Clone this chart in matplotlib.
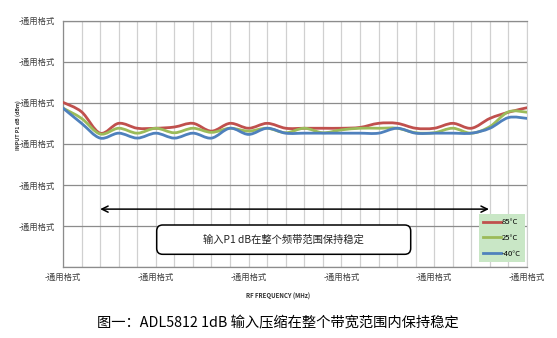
import matplotlib
matplotlib.use("Agg")
import matplotlib.pyplot as plt
import numpy as np
from matplotlib.lines import Line2D
from matplotlib.patches import FancyBboxPatch, PathPatch
from matplotlib.path import Path
from matplotlib.transforms import IdentityTransform

plt.rcParams["font.family"] = ["Noto Sans CJK SC", "DejaVu Sans"]

# frequency steps (one per minor gridline) and P1dB readings, arbitrary units
freq_steps = list(range(26))
p1db_85c = [4.01, 3.78, 3.26, 3.50, 3.38, 3.38, 3.41, 3.50, 3.31, 3.50, 3.38, 3.50, 3.38,
            3.38, 3.38, 3.38, 3.40, 3.50, 3.50, 3.38, 3.38, 3.50, 3.38, 3.62, 3.77, 3.88]
p1db_25c = [3.87, 3.62, 3.24, 3.38, 3.26, 3.38, 3.27, 3.38, 3.28, 3.38, 3.31, 3.38, 3.27,
            3.38, 3.27, 3.34, 3.38, 3.38, 3.38, 3.27, 3.27, 3.38, 3.26, 3.42, 3.78, 3.77]
p1db_m40c = [3.87, 3.50, 3.14, 3.26, 3.14, 3.26, 3.14, 3.26, 3.14, 3.38, 3.23, 3.38, 3.26,
             3.26, 3.26, 3.26, 3.26, 3.26, 3.38, 3.26, 3.26, 3.26, 3.26, 3.38, 3.64, 3.62]

series_labels = ["85°C", "25°C", "-40°C"]
series_colors = ["#C0504D", "#9BBB59", "#4F81BD"]
tick_label = "-通用格式"
y_ticks = [0, 1, 2, 3, 4, 5, 6]
x_ticks = [0, 5, 10, 15, 20, 25]


def smooth_path(xs, ys):
    # Excel-style smoothed line: Catmull-Rom segments drawn as cubic Beziers
    pts = np.column_stack([xs, ys]).astype(float)
    verts = [pts[0]]
    codes = [Path.MOVETO]
    n = len(pts)
    for i in range(n - 1):
        p0 = pts[max(i - 1, 0)]
        p1 = pts[i]
        p2 = pts[i + 1]
        p3 = pts[min(i + 2, n - 1)]
        verts += [p1 + (p2 - p0) / 6.0, p2 - (p3 - p1) / 6.0, p2]
        codes += [Path.CURVE4] * 3
    return Path(verts, codes)


fig = plt.figure(figsize=(5.57, 3.38), dpi=100)
ax = fig.add_axes([63 / 557, 71 / 338, 464 / 557, 246.3 / 338])

ax.set_xlim(0, 25)
ax.set_ylim(0, 6)

ax.set_xticks(range(26), minor=True)
ax.set_xticks(x_ticks)
ax.set_yticks(y_ticks)
ax.set_xticklabels([tick_label] * len(x_ticks))
# the bottom gridline carries no label in the original
ax.set_yticklabels([""] + [tick_label] * (len(y_ticks) - 1))
ax.tick_params(axis="both", which="both", length=0, labelsize=6, colors="#404040")
ax.tick_params(axis="y", pad=6)
ax.tick_params(axis="x", pad=4)

ax.grid(axis="x", which="both", color="#D0D0D0", linewidth=0.9)
ax.grid(axis="y", which="major", color="#8C8C8C", linewidth=0.9)
ax.set_axisbelow(True)
for side in ["left", "bottom", "top"]:
    ax.spines[side].set_color("#8C8C8C")
    ax.spines[side].set_linewidth(0.9)
ax.spines["right"].set_color("#D0D0D0")

for values, color in zip([p1db_85c, p1db_25c, p1db_m40c], series_colors):
    patch = PathPatch(smooth_path(freq_steps, values), facecolor="none",
                      edgecolor=color, linewidth=2.0, capstyle="round", zorder=3)
    ax.add_patch(patch)

ax.annotate("", xy=(22.95, 1.41), xytext=(2.0, 1.41),
            arrowprops=dict(arrowstyle="<->,head_length=0.45,head_width=0.22",
                            color="black", lw=1.1, shrinkA=0, shrinkB=0))

box = FancyBboxPatch((156.7, 83.7), 254, 29.3,
                     boxstyle="round,pad=0,rounding_size=6",
                     facecolor="white", edgecolor="black", linewidth=1.1,
                     transform=IdentityTransform(), zorder=4)
fig.add_artist(box)
fig.text(283.7 / 557, 1 - 240 / 338, "输入P1 dB在整个频带范围保持稳定",
         ha="center", va="center", fontsize=7.4, color="#222222", zorder=5)

handles = [Line2D([], [], color=c, linewidth=2.0) for c in series_colors]
leg = ax.legend(handles, series_labels, loc="lower right",
                bbox_to_anchor=(525 / 557, (338 - 262.3) / 338),
                bbox_transform=fig.transFigure, borderaxespad=0,
                fontsize=5.5, handlelength=2.3, handletextpad=0.1,
                labelspacing=1.0, borderpad=0.6, fancybox=False,
                frameon=True, facecolor="#C9E7C6", edgecolor="none", framealpha=1)

fig.text(18 / 557, 1 - 125 / 338, "INPUT P1 dB (dBm)", rotation=90,
         ha="center", va="center", fontsize=3.8, fontweight="bold", color="#333333")
fig.text(278 / 557, 1 - 296 / 338, "RF FREQUENCY (MHz)",
         ha="center", va="center", fontsize=4.4, fontweight="bold", color="#333333")
fig.text(278 / 557, 1 - 323 / 338, "图一：ADL5812 1dB 输入压缩在整个带宽范围内保持稳定",
         ha="center", va="center", fontsize=10.3, color="black")

fig.savefig("out.png", dpi=100)
